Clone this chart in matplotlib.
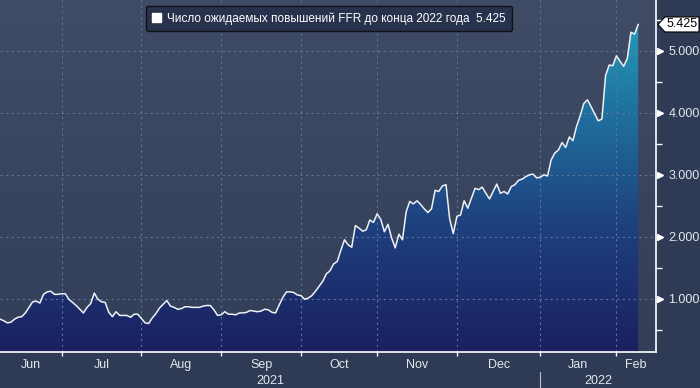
import numpy as np
import pandas as pd
import matplotlib
matplotlib.use('Agg')
import matplotlib.pyplot as plt
from matplotlib.colors import LinearSegmentedColormap
from matplotlib.patches import Patch, Polygon

plt.rcParams['font.family'] = ['Liberation Sans', 'DejaVu Sans']

# business days, June 8 2021 .. Feb 9 2022
dates = pd.bdate_range('2021-06-08', '2022-02-09')

# number of FFR hikes priced in by end of 2022
hikes = [
    0.67, 0.645, 0.61, 0.62, 0.67, 0.70, 0.71, 0.77, 0.86, 0.95,
    0.96, 0.93, 1.07, 1.11, 1.12, 1.07, 1.07, 1.08, 1.08, 0.99,
    0.94, 0.89, 0.83, 0.77, 0.86, 0.92, 1.09, 0.99, 0.95, 0.94,
    0.78, 0.71, 0.79, 0.73, 0.73, 0.73, 0.70, 0.75, 0.75, 0.68,
    0.61, 0.60, 0.69, 0.76, 0.85, 0.91, 0.97, 0.88, 0.86, 0.83,
    0.84, 0.87, 0.87, 0.86, 0.86, 0.86, 0.88, 0.89, 0.89, 0.82,
    0.73, 0.74, 0.79, 0.75, 0.75, 0.74, 0.77, 0.77, 0.78, 0.81,
    0.80, 0.79, 0.80, 0.83, 0.82, 0.78, 0.77, 0.90, 1.02, 1.11,
    1.11, 1.10, 1.06, 1.05, 0.99, 1.01, 1.05, 1.12, 1.20, 1.28,
    1.40, 1.45, 1.56, 1.60, 1.78, 1.95, 1.87, 1.83, 2.18, 2.14,
    2.09, 2.11, 2.27, 2.23, 2.37, 2.28, 2.08, 2.20, 1.98, 1.82,
    2.04, 1.95, 2.40, 2.57, 2.53, 2.58, 2.52, 2.45, 2.39, 2.45,
    2.75, 2.73, 2.82, 2.84, 2.29, 2.05, 2.33, 2.35, 2.58, 2.46,
    2.62, 2.78, 2.76, 2.80, 2.70, 2.61, 2.73, 2.85, 2.70, 2.73,
    2.69, 2.81, 2.84, 2.91, 2.93, 2.97, 3.00, 3.01, 2.95, 2.96,
    3.00, 2.98, 3.24, 3.35, 3.40, 3.52, 3.44, 3.61, 3.55, 3.78,
    3.95, 4.15, 4.21, 4.10, 3.98, 3.87, 3.90, 4.60, 4.77, 4.76,
    4.92, 4.83, 4.75, 4.88, 5.30, 5.27, 5.425,
]
y_ticks = [1, 2, 3, 4, 5]
month_names = ['Jun', 'Jul', 'Aug', 'Sep', 'Oct', 'Nov', 'Dec', 'Jan', 'Feb']
years = ['2021', '2022']
legend_label = 'Число ожидаемых повышений FFR до конца 2022 года  5.425'

x = np.arange(len(dates))
last = hikes[-1]

txt = '#e4e8ee'
fig = plt.figure(figsize=(7, 3.88), dpi=100, facecolor='#2f3a55')
ax = fig.add_axes([0, 0.0928, 0.9371, 0.9072])
ymin, ymax = 0.14, 5.82
xmax = 180.9

# background gradient
bg = LinearSegmentedColormap.from_list('bg', ['#333e58', '#404b66'])
ax.imshow(np.linspace(0, 1, 256).reshape(-1, 1), extent=[0, xmax, ymin, ymax],
          origin='lower', aspect='auto', cmap=bg, zorder=0)

# area fill with vertical gradient
fill = ax.fill_between(x, hikes, ymin, color='none', lw=0)
area = LinearSegmentedColormap.from_list(
    'area', [(0, '#1a2060'), (0.35, '#1e3f7e'), (0.7, '#1f73a1'), (1, '#26a6bd')])
im = ax.imshow(np.linspace(0, 1, 256).reshape(-1, 1), extent=[0, x[-1], ymin, ymax],
               origin='lower', aspect='auto', cmap=area, zorder=2)
im.set_clip_path(fill.get_paths()[0], transform=ax.transData)

ax.plot(x, hikes, color='#eef1f5', lw=1.1, zorder=5)

# month boundaries
month_start = [i for i in range(1, len(dates)) if dates[i].month != dates[i - 1].month]
for m in month_start:
    ax.axvline(m, color='#5d7694', lw=0.8, ls=(0, (2, 3)), zorder=3)
for v in y_ticks:
    ax.axhline(v, color='#5d7694', lw=0.8, ls=(0, (2, 3)), zorder=3)

ax.set_xlim(0, xmax)
ax.set_ylim(ymin, ymax)

for s in ['top', 'left']:
    ax.spines[s].set_visible(False)
for s in ['right', 'bottom']:
    ax.spines[s].set_color('white')
    ax.spines[s].set_linewidth(1.2)
    ax.spines[s].set_zorder(6)

ax.yaxis.tick_right()
ax.set_yticks(y_ticks)
ax.set_yticklabels([f'{v:.3f}' for v in y_ticks])
ax.set_yticks(np.arange(0.5, 6, 1), minor=True)
ax.tick_params(axis='y', which='major', length=0, pad=9, labelcolor=txt, labelsize=9)
ax.tick_params(axis='y', which='minor', length=4, width=1, color='white')
ax.plot([1.006] * len(y_ticks), y_ticks, marker='>', ms=5, color='white', ls='none',
        transform=ax.get_yaxis_transform(), clip_on=False, zorder=7)

ax.set_xticks(month_start)
ax.set_xticklabels([])
ax.tick_params(axis='x', length=3, width=1, color='white')

# month and year labels
bounds = [0] + month_start + [xmax]
for i, name in enumerate(month_names):
    mid = min((bounds[i] + bounds[i + 1]) / 2, xmax - 3.2)
    ax.text(mid, -0.037, name, transform=ax.get_xaxis_transform(), ha='center', va='center',
            color=txt, fontsize=9)
jan = month_start[month_names.index('Jan') - 1]
for name, (a, b) in zip(years, [(0, jan), (jan, xmax)]):
    ax.text((a + b) / 2, -0.082, name, transform=ax.get_xaxis_transform(), ha='center',
            va='center', color=txt, fontsize=9)
ax.plot([jan, jan], [-0.057, -0.11], color='#b8bfca', lw=0.8,
        transform=ax.get_xaxis_transform(), clip_on=False)

# last value tag (pointed label, drawn in pixels)
fig.canvas.draw()
yc = ax.transData.transform((0, last))[1]
tag = Polygon([(658, yc), (665, yc + 7.5), (699, yc + 7.5), (699, yc - 7.5), (665, yc - 7.5)],
              closed=True, transform=None, fc='white', ec='black', lw=0.8, zorder=8)
fig.add_artist(tag)
fig.text(682 / 700, yc / 388, f'{last:.3f}', ha='center', va='center', color='black',
         fontsize=9, zorder=9)

leg = fig.legend(handles=[Patch(facecolor='white', edgecolor='white')], labels=[legend_label],
                 loc='center', bbox_to_anchor=(329 / 700, 1 - 18.5 / 388), fontsize=8.5,
                 handlelength=0.8, handleheight=0.8, handletextpad=0.5, borderpad=0.55,
                 fancybox=True, facecolor='#28324d', edgecolor='#111111', framealpha=1)
for t in leg.get_texts():
    t.set_color('white')

fig.savefig('out.png', dpi=100, facecolor=fig.get_facecolor())
